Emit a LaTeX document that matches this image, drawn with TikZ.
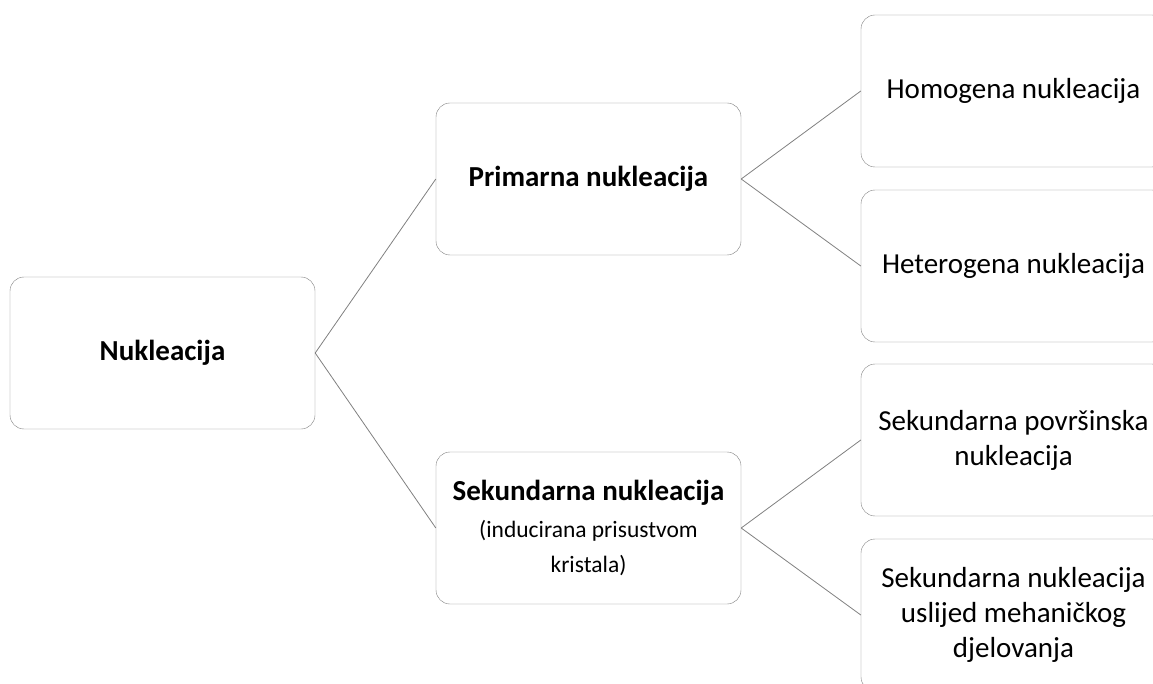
\documentclass[tikz,border=0pt]{standalone}
\usepackage{fontspec}
\setmainfont{Carlito}
\usepackage{xcolor}
\usepackage{tikz}

\definecolor{boxgray}{RGB}{128,128,128}
\newcommand{\smalltxt}{\fontsize{23.5}{29}\selectfont}

\tikzset{
    nbox/.style={draw=boxgray, rounded corners=14pt, fill=white,
        minimum width=305pt, minimum height=152pt, align=center,
        inner sep=2pt, font=\fontsize{29}{35}\selectfont},
    mainbox/.style={nbox, font=\fontsize{29}{35}\selectfont\bfseries},
    link/.style={draw=boxgray, line width=0.8pt}
}

\begin{document}
\begin{tikzpicture}[x=1pt, y=-1pt]
    \useasboundingbox (0,0) rectangle (1153,684);
    \clip (0,0) rectangle (1153,684);

    % Root
    \node[mainbox] (nuk) at (162.5,353) {Nukleacija};

    % Second level
    \node[mainbox] (prim) at (588.5,179) {Primarna nukleacija};
    \node[nbox] (sek) at (588.5,528) {{\bfseries Sekundarna nukleacija}\\[2pt]
        \smalltxt (inducirana prisustvom\\\smalltxt kristala)};

    % Leaves
    \node[nbox] (hom) at (1013.5,91) {Homogena nukleacija};
    \node[nbox] (het) at (1013.5,266) {Heterogena nukleacija};
    \node[nbox] (pov) at (1013.5,440) {Sekundarna površinska\\nukleacija};
    \node[nbox] (meh) at (1013.5,615) {Sekundarna nukleacija\\uslijed mehaničkog\\djelovanja};

    % Connectors
    \draw[link] (nuk.east) -- (prim.west);
    \draw[link] (nuk.east) -- (sek.west);
    \draw[link] (prim.east) -- (hom.west);
    \draw[link] (prim.east) -- (het.west);
    \draw[link] (sek.east) -- (pov.west);
    \draw[link] (sek.east) -- (meh.west);
\end{tikzpicture}
\end{document}
